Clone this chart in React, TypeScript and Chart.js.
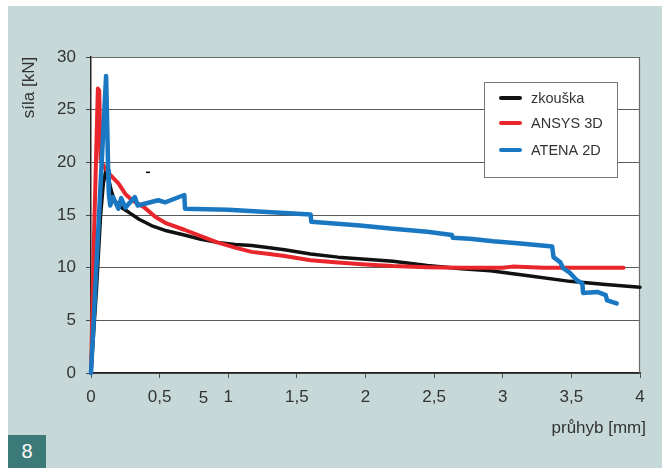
import { useEffect, useRef } from 'react';
import { Chart, registerables } from 'chart.js';

Chart.register(...registerables);

// ---- data ----
const seriesNames = ['zkouška', 'ANSYS 3D', 'ATENA 2D'];
const xTickValues = [0, 0.5, 1, 1.5, 2, 2.5, 3, 3.5, 4];
const yTickValues = [0, 5, 10, 15, 20, 25, 30];
const xTitle = 'průhyb [mm]';
const yTitle = 'síla [kN]';
const figureNumber = '8';
const strayTickLabel = '5';
const strayTickValue = 0.82;
const strayMarkX = [0.415];
const strayMarkY = [19.05];

const testX = [0, 0.04, 0.07, 0.09, 0.11, 0.13, 0.15, 0.17, 0.21, 0.27, 0.35, 0.44, 0.55, 0.68, 0.8, 0.92, 1.05, 1.17, 1.3, 1.41, 1.6, 1.8, 2.0, 2.2, 2.45, 2.7, 2.91, 3.2, 3.49, 3.75, 4.0, 4.09];
const testY = [0, 8, 15, 18, 19.3, 18.3, 17.2, 16.4, 15.8, 15.3, 14.6, 14.0, 13.5, 13.1, 12.7, 12.4, 12.2, 12.1, 11.9, 11.7, 11.3, 11.0, 10.8, 10.6, 10.2, 9.9, 9.7, 9.2, 8.7, 8.4, 8.15, 8.05];

const ansysX = [0, 0.02, 0.05, 0.06, 0.07, 0.1, 0.14, 0.2, 0.25, 0.3, 0.39, 0.47, 0.55, 0.68, 0.8, 0.92, 1.05, 1.17, 1.3, 1.41, 1.6, 1.8, 2.0, 2.2, 2.45, 2.7, 3.0, 3.07, 3.3, 3.6, 3.88];
const ansysY = [0, 12, 27, 26.8, 20.2, 19.5, 18.8, 18.0, 17.0, 16.4, 15.7, 14.8, 14.2, 13.6, 13.0, 12.4, 11.9, 11.5, 11.3, 11.1, 10.7, 10.5, 10.3, 10.15, 10.05, 10.0, 10.0, 10.1, 10.0, 10.0, 10.0];

const atenaX = [0, 0.11, 0.12, 0.125, 0.13, 0.14, 0.16, 0.2, 0.22, 0.25, 0.32, 0.34, 0.49, 0.54, 0.58, 0.68, 0.685, 1.0, 1.25, 1.41, 1.6, 1.605, 1.96, 2.2, 2.45, 2.63, 2.635, 2.76, 2.93, 3.13, 3.36, 3.37, 3.42, 3.44, 3.49, 3.54, 3.58, 3.585, 3.69, 3.75, 3.76, 3.83];
const atenaY = [0, 28.2, 22.4, 19.2, 17.0, 15.9, 16.7, 15.6, 16.6, 15.7, 16.7, 15.9, 16.4, 16.2, 16.4, 16.9, 15.6, 15.5, 15.3, 15.2, 15.05, 14.35, 14.0, 13.7, 13.4, 13.1, 12.85, 12.75, 12.5, 12.3, 12.0, 11.0, 10.5, 9.95, 9.5, 8.8, 8.5, 7.6, 7.7, 7.4, 6.9, 6.6];

const toPoints = (xs: number[], ys: number[]) => xs.map((x, i) => ({ x, y: ys[i] }));

const FONT = '"Liberation Sans", Arial, Helvetica, sans-serif';
const TEXT = '#333333';
const colors = ['#111111', '#e8262b', '#1a78c2'];

const decorPlugin = {
  id: 'decor',
  beforeDraw(chart: any) {
    const { ctx, chartArea: a } = chart;
    ctx.save();
    ctx.fillStyle = '#ffffff';
    ctx.fillRect(a.left, a.top, a.right - a.left, a.bottom - a.top);
    ctx.restore();
  },
  beforeDatasetsDraw(chart: any) {
    const { ctx, chartArea: a } = chart;
    ctx.save();
    ctx.strokeStyle = '#6a6a6a';
    ctx.lineWidth = 1.2;
    ctx.beginPath();
    ctx.moveTo(a.left, a.top + 0.5);
    ctx.lineTo(a.right - 0.5, a.top + 0.5);
    ctx.lineTo(a.right - 0.5, a.bottom);
    ctx.stroke();
    ctx.restore();
  },
  afterDraw(chart: any) {
    const { ctx, chartArea: a, scales } = chart;
    ctx.save();
    // legend box
    const lx = 476, ly = 76, lw = 133, lh = 95;
    ctx.fillStyle = '#ffffff';
    ctx.fillRect(lx, ly, lw, lh);
    ctx.strokeStyle = '#777777';
    ctx.lineWidth = 1;
    ctx.strokeRect(lx + 0.5, ly + 0.5, lw, lh);
    const rows = [16, 41, 68];
    ctx.font = `14.5px ${FONT}`;
    ctx.textBaseline = 'middle';
    ctx.textAlign = 'left';
    seriesNames.forEach((name, i) => {
      const y = ly + rows[i];
      ctx.strokeStyle = colors[i];
      ctx.lineWidth = 4;
      ctx.lineCap = 'round';
      ctx.beginPath();
      ctx.moveTo(lx + 17, y);
      ctx.lineTo(lx + 36, y);
      ctx.stroke();
      ctx.fillStyle = TEXT;
      ctx.fillText(name, lx + 47, y + 0.5);
    });
    // axis titles
    ctx.fillStyle = TEXT;
    ctx.font = `17px ${FONT}`;
    ctx.textAlign = 'right';
    ctx.textBaseline = 'middle';
    ctx.fillText(xTitle, 638, 422);
    ctx.save();
    ctx.translate(21, 81.5);
    ctx.rotate(-Math.PI / 2);
    ctx.textAlign = 'center';
    ctx.fillText(yTitle, 0, 0);
    ctx.restore();
    // stray tick label
    const sx = scales.x.getPixelForValue(strayTickValue);
    ctx.textAlign = 'center';
    ctx.textBaseline = 'middle';
    ctx.fillText(strayTickLabel, sx, a.bottom + 25);
    ctx.restore();
  },
};

export default function App() {
  const ref = useRef<HTMLCanvasElement>(null);
  useEffect(() => {
    if (!ref.current) return;
    const chart = new Chart(ref.current, {
      type: 'line',
      data: {
        datasets: [
          {
            label: seriesNames[2],
            data: toPoints(atenaX, atenaY),
            borderColor: colors[2],
            borderWidth: 4.5,
            order: 1,
          },
          {
            label: seriesNames[1],
            data: toPoints(ansysX, ansysY),
            borderColor: colors[1],
            borderWidth: 4,
            order: 2,
          },
          {
            label: seriesNames[0],
            data: toPoints(testX, testY),
            borderColor: colors[0],
            borderWidth: 3.5,
            order: 3,
          },
          {
            label: 'mark',
            data: toPoints(strayMarkX, strayMarkY),
            borderColor: '#000',
            showLine: false,
            pointStyle: 'line',
            pointRadius: 2,
            pointBorderWidth: 1.5,
            order: 0,
          },
        ] as any,
      },
      options: {
        animation: false,
        responsive: true,
        maintainAspectRatio: false,
        layout: { padding: { left: 43, top: 51, right: 22, bottom: 55 } },
        elements: {
          point: { radius: 0 },
          line: { tension: 0, borderJoinStyle: 'round', borderCapStyle: 'round' },
        },
        datasets: { line: { clip: false as any } } as any,
        plugins: { legend: { display: false }, tooltip: { enabled: false } },
        scales: {
          x: {
            type: 'linear',
            min: 0,
            max: 4,
            afterBuildTicks: (s: any) => {
              s.ticks = xTickValues.map((v) => ({ value: v }));
            },
            afterFit: (s: any) => {
              s.height = 40;
            },
            grid: { drawOnChartArea: false, drawTicks: true, tickLength: 5, tickColor: '#555' },
            border: { display: true, color: '#222', width: 1.5 },
            ticks: {
              padding: 9,
              color: TEXT,
              font: { family: FONT, size: 17 },
              callback: (v: any) => String(v).replace('.', ','),
              maxRotation: 0,
              autoSkip: false,
            },
          },
          y: {
            type: 'linear',
            min: 0,
            max: 30,
            afterBuildTicks: (s: any) => {
              s.ticks = yTickValues.map((v) => ({ value: v }));
            },
            afterFit: (s: any) => {
              s.width = 40;
            },
            grid: { color: '#5a5a5a', lineWidth: 1, drawTicks: true, tickLength: 5, tickColor: '#444' },
            border: { display: true, color: '#222', width: 1.5 },
            ticks: {
              padding: 10,
              color: TEXT,
              font: { family: FONT, size: 17 },
            },
          },
        },
      },
      plugins: [decorPlugin],
    });
    return () => chart.destroy();
  }, []);

  return (
    <div
      style={{
        position: 'fixed',
        left: 8,
        top: 6,
        width: 654,
        height: 462,
        background: '#c6d9d8',
      }}
    >
      <canvas ref={ref} />
      <div
        style={{
          position: 'absolute',
          left: 0,
          bottom: 0,
          width: 38,
          height: 33,
          background: '#3b7a78',
          color: '#ffffff',
          fontFamily: FONT,
          fontSize: 20,
          lineHeight: '33px',
          textAlign: 'center',
        }}
      >
        {figureNumber}
      </div>
    </div>
  );
}
